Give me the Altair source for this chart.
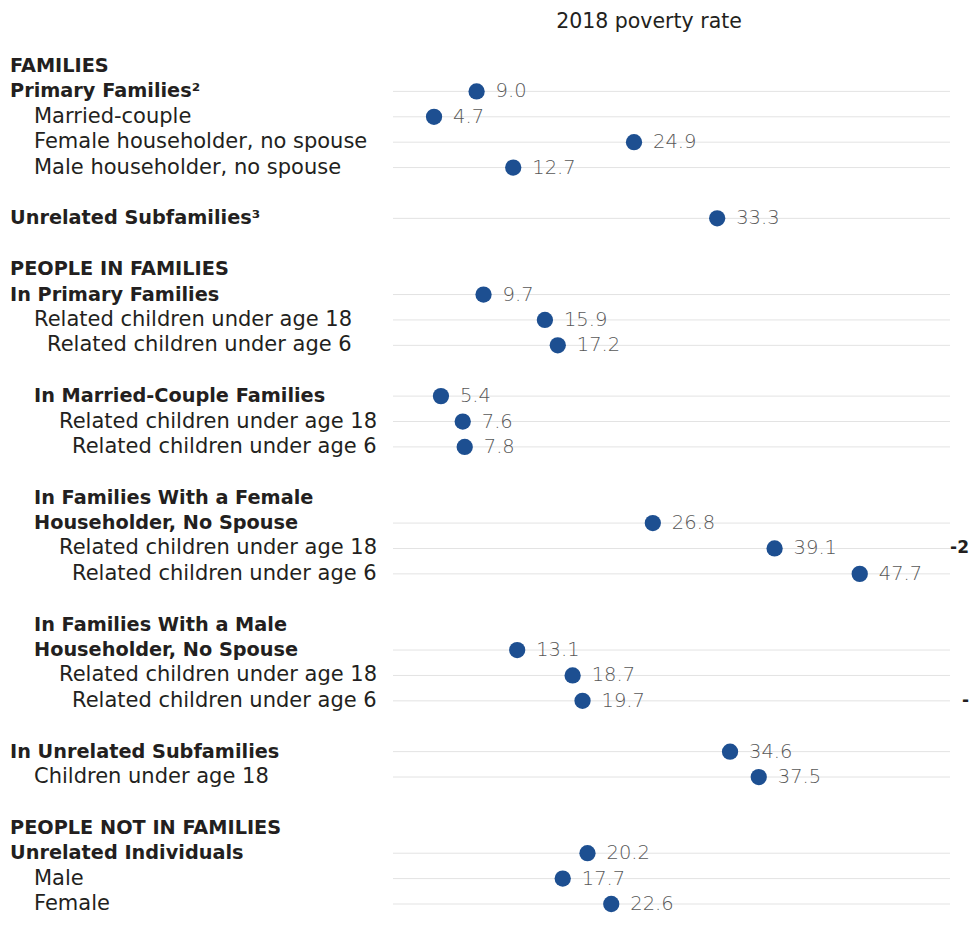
import altair as alt
import pandas as pd

# ---- data -------------------------------------------------------------
labels = [
    "FAMILIES", "Primary Families²", "Married-couple",
    "Female householder, no spouse", "Male householder, no spouse", "",
    "Unrelated Subfamilies³", "",
    "PEOPLE IN FAMILIES", "In Primary Families",
    "Related children under age 18", "Related children under age 6", "",
    "In Married-Couple Families", "Related children under age 18",
    "Related children under age 6", "",
    "In Families With a Female", "Householder, No Spouse",
    "Related children under age 18", "Related children under age 6", "",
    "In Families With a Male", "Householder, No Spouse",
    "Related children under age 18", "Related children under age 6", "",
    "In Unrelated Subfamilies", "Children under age 18", "",
    "PEOPLE NOT IN FAMILIES", "Unrelated Individuals", "Male", "Female",
]
rates = [
    None, 9.0, 4.7, 24.9, 12.7, None,
    33.3, None,
    None, 9.7, 15.9, 17.2, None,
    5.4, 7.6, 7.8, None,
    None, 26.8, 39.1, 47.7, None,
    None, 13.1, 18.7, 19.7, None,
    34.6, 37.5, None,
    None, 20.2, 17.7, 22.6,
]
bold = [
    1, 1, 0, 0, 0, 0,
    1, 0,
    1, 1, 0, 0, 0,
    1, 0, 0, 0,
    1, 1, 0, 0, 0,
    1, 1, 0, 0, 0,
    1, 0, 0,
    1, 1, 0, 0,
]
indent = [
    0, 0, 1, 1, 1, 0,
    0, 0,
    0, 0, 1, 2, 0,
    1, 3, 4, 0,
    1, 1, 3, 4, 0,
    1, 1, 3, 4, 0,
    0, 1, 0,
    0, 0, 1, 1,
]
# partially visible entries of the next (cut-off) column
fragment_rows = [19, 25]
fragment_texts = ["-2", "-"]
title_text = ["2018 poverty rate"]

# ---- layout / style ---------------------------------------------------
W, H = 962, 912
FONT = "DejaVu Sans"
indent_px = {0: 2, 1: 26, 2: 39, 3: 51, 4: 64}

df = pd.DataFrame({"row": list(range(len(labels))), "label": labels,
                   "rate": rates, "bold": bold, "indent": indent})
pts = df.dropna(subset=["rate"])
frag = pd.DataFrame({"row": fragment_rows, "text": fragment_texts})
ttl = pd.DataFrame({"text": title_text})

yscale = alt.Scale(domain=[0, 33], range=[58, 896])
xscale = alt.Scale(domain=[0, 57], range=[379.5, 943.8])
Y = alt.Y("row:Q", scale=yscale, axis=None)
X = alt.X("rate:Q", scale=xscale, axis=None)

rules = alt.Chart(pts).mark_rule(color="#e3e3e3", strokeWidth=1).encode(
    x=alt.value(385), x2=alt.value(942), y=Y)

dots = alt.Chart(pts).mark_circle(size=265, color="#1d4f91", opacity=1).encode(
    x=X, y=Y)

vals = alt.Chart(pts).mark_text(
    align="left", baseline="middle", dx=19, fontSize=19.5, font=FONT,
    fontWeight=300, color="#585858").encode(
    x=X, y=Y, text=alt.Text("rate:Q", format=".1f"))

label_layers = []
for b in (0, 1):
    for lvl, px in indent_px.items():
        sub = df[(df.bold == b) & (df.indent == lvl) & (df.label != "")]
        if len(sub) == 0:
            continue
        label_layers.append(
            alt.Chart(sub).mark_text(
                align="left", baseline="middle",
                fontSize=19.3 if b else 21, font=FONT,
                fontWeight="bold" if b else "normal", color="#231f20").encode(
                x=alt.value(px), y=Y, text="label:N"))

frags = alt.Chart(frag).mark_text(
    align="right", baseline="middle", fontSize=17, font=FONT,
    fontWeight="bold", color="#231f20").encode(
    x=alt.value(961), y=Y, text="text:N")

title = alt.Chart(ttl).mark_text(
    align="center", baseline="middle", fontSize=20.5, font=FONT,
    color="#231f20").encode(x=alt.value(641), y=alt.value(14), text="text:N")

chart = alt.layer(rules, dots, vals, *label_layers, frags, title).properties(
    width=W, height=H, padding=0, autosize=alt.AutoSizeParams(type="none"),
    background="white"
).configure_view(stroke=None)

chart.save("out.html", embed_options={"renderer": "svg", "actions": False})
